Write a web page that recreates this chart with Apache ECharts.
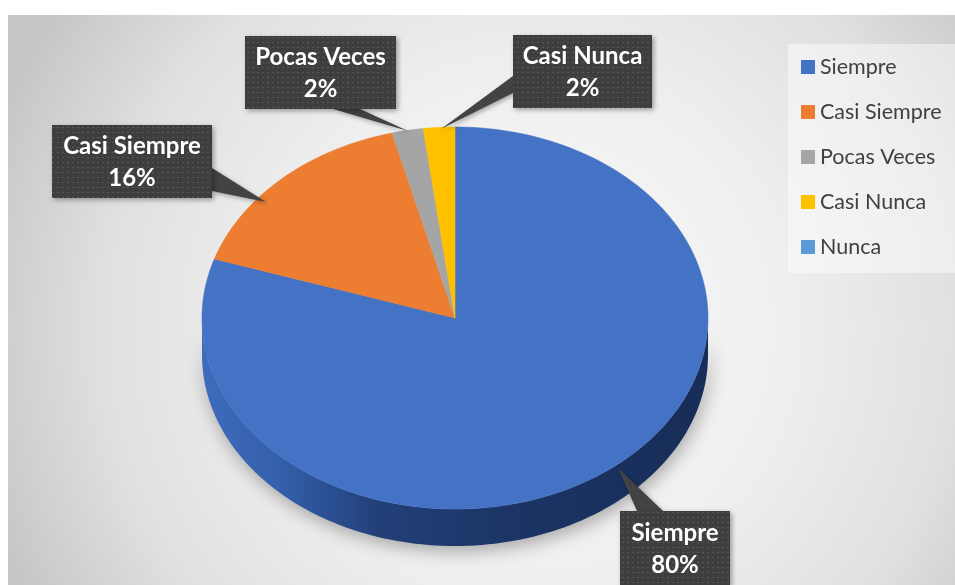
<!DOCTYPE html>
<html><head><meta charset="utf-8">
<script src="https://cdn.jsdelivr.net/npm/echarts@6/dist/echarts.min.js"></script>
<style>html,body{margin:0;padding:0;background:#fff;}#chart{width:955px;height:585px;}</style>
</head><body><div id="chart"></div>
<script>
// ---- data ----
const categories = ['Siempre', 'Casi Siempre', 'Pocas Veces', 'Casi Nunca', 'Nunca'];
const values = [80, 16, 2, 2, 0];

// ---- styles / layout ----
const colors = ['#4472C4', '#ED7D31', '#A5A5A5', '#FFC000', '#5B9BD5'];
const CX = 455, CY = 318, RX = 253, RY = 191, DEPTH = 37;
const labelLayout = [
  { x: 620, y: 511, w: 110, h: 74, base: [[637, 511], [663, 511]], tip: [618, 468] },
  { x: 52, y: 125, w: 160, h: 73, base: [[212, 168], [212, 191]], tip: [266, 202] },
  { x: 245, y: 36, w: 151, h: 73, base: [[333, 109], [360, 109]], tip: [408, 131] },
  { x: 513, y: 35, w: 139, h: 73, base: [[513, 76], [513, 93]], tip: [441, 129] },
  null
];

function makePattern() {
  const c = document.createElement('canvas');
  c.width = 5; c.height = 5;
  const g = c.getContext('2d');
  g.fillStyle = '#3e3e3e'; g.fillRect(0, 0, 5, 5);
  g.fillStyle = '#585858'; g.fillRect(2, 2, 2, 1);
  return c;
}
const labelFill = { image: makePattern(), repeat: 'repeat' };

const total = values.reduce((a, b) => a + b, 0);
function pt(deg, dy) {
  const r = deg * Math.PI / 180;
  return [CX + RX * Math.sin(r), CY - RY * Math.cos(r) + (dy || 0)];
}

function renderItem(params, api) {
  const si = params.seriesIndex;
  const v = api.value(0);
  const children = [];
  if (!(v > 0)) return { type: 'group', children: children };
  let start = 0;
  for (let i = 0; i < si; i++) start += values[i];
  const a0 = start / total * 360, a1 = (start + v) / total * 360;
  // side wall (front half only)
  const w0 = Math.max(a0, 90), w1 = Math.min(a1, 270);
  if (w1 > w0) {
    const top = [], bot = [];
    const n = Math.max(2, Math.ceil((w1 - w0) / 1.5));
    for (let k = 0; k <= n; k++) {
      const d = w0 + (w1 - w0) * k / n;
      top.push(pt(d, 0)); bot.push(pt(d, DEPTH));
    }
    const poly = top.concat(bot.reverse());
    children.push({
      type: 'polygon', shape: { points: poly },
      style: {
        fill: new echarts.graphic.LinearGradient(0, 0, 1, 0, [
          { offset: 0, color: '#3F6BBD' },
          { offset: 0.15, color: '#3460AC' },
          { offset: 0.35, color: '#223F78' },
          { offset: 0.6, color: '#1C3566' },
          { offset: 1, color: '#172D57' }
        ]),
        shadowBlur: 18, shadowColor: 'rgba(0,0,0,0.32)', shadowOffsetX: 2, shadowOffsetY: 5
      }
    });
  }
  // top face
  const face = [[CX, CY]];
  const m = Math.max(2, Math.ceil((a1 - a0) / 1.5));
  for (let k = 0; k <= m; k++) face.push(pt(a0 + (a1 - a0) * k / m, 0));
  children.push({
    type: 'polygon', shape: { points: face },
    style: { fill: colors[si], stroke: colors[si], lineWidth: 0.6 }
  });
  // label
  const L = labelLayout[si];
  if (L) {
    const pct = Math.round(v / total * 100) + '%';
    children.push({
      type: 'polygon', shape: { points: [L.base[0], L.base[1], L.tip] },
      style: { fill: '#434343', shadowBlur: 4, shadowColor: 'rgba(0,0,0,0.3)', shadowOffsetX: 2, shadowOffsetY: 2 }
    });
    children.push({
      type: 'rect', shape: { x: L.x, y: L.y, width: L.w, height: L.h },
      style: { fill: labelFill, shadowBlur: 5, shadowColor: 'rgba(0,0,0,0.35)', shadowOffsetX: 2, shadowOffsetY: 2 }
    });
    children.push({
      type: 'text',
      style: {
        text: categories[si] + '\n' + pct,
        x: L.x + L.w / 2, y: L.y + L.h / 2 + 1,
        align: 'center', verticalAlign: 'middle',
        fill: '#ffffff', fontSize: 24, fontWeight: 'bold', fontFamily: 'Lato', lineHeight: 32
      }
    });
  }
  return { type: 'group', children: children };
}

const chart = echarts.init(document.getElementById('chart'), null, { renderer: 'canvas' });
chart.setOption({
  animation: false,
  graphic: [{
    type: 'rect', z: -1, silent: true,
    shape: { x: 8, y: 15, width: 947, height: 570 },
    style: {
      fill: new echarts.graphic.RadialGradient(0.55, 0.55, 1.0, [
        { offset: 0, color: '#fafafa' },
        { offset: 0.45, color: '#efefef' },
        { offset: 0.75, color: '#e0e0e0' },
        { offset: 1, color: '#c6c6c6' }
      ])
    }
  }],
  legend: {
    orient: 'vertical', left: 788, top: 44,
    data: categories, icon: 'rect', itemWidth: 14, itemHeight: 14, itemGap: 21,
    padding: [11, 40, 14, 13], backgroundColor: 'rgba(255,255,255,0.45)',
    selectedMode: false,
    textStyle: { fontSize: 21.5, color: '#404040', fontFamily: 'Lato', lineHeight: 24 }
  },
  series: categories.map((name, i) => ({
    type: 'custom', name: name, coordinateSystem: 'none',
    itemStyle: { color: colors[i] },
    renderItem: renderItem,
    data: [[values[i]]]
  }))
});
</script></body></html>
